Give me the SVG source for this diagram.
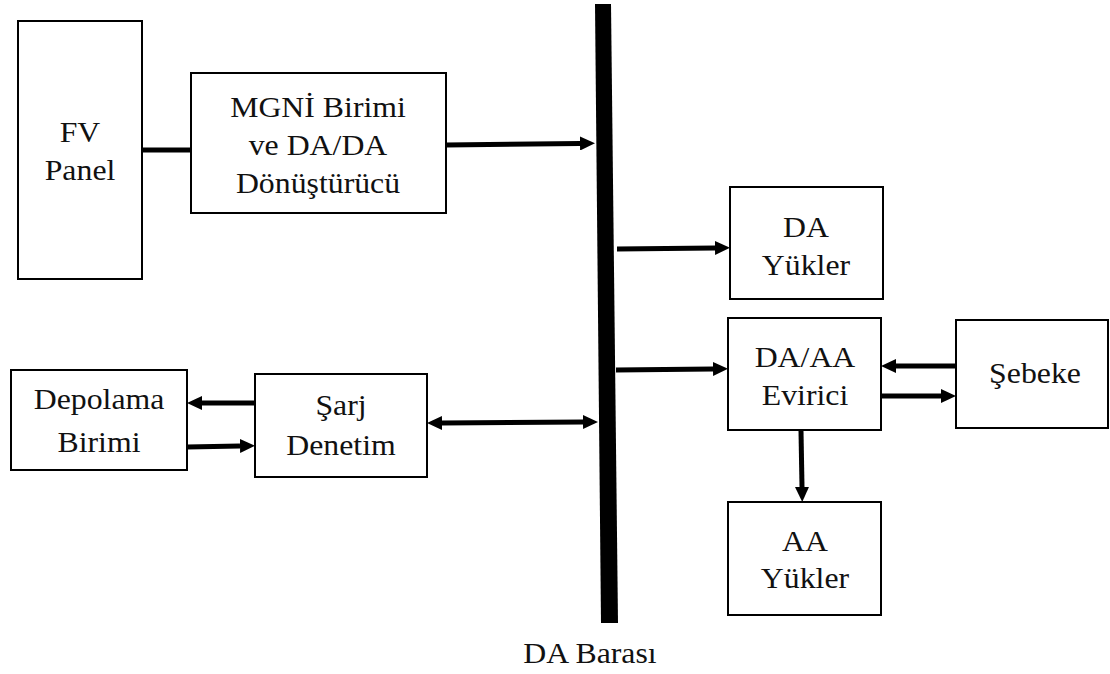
<svg xmlns="http://www.w3.org/2000/svg" width="1110" height="674" viewBox="0 0 1110 674">
<style>
.box{fill:#fff;stroke:#000;stroke-width:2}
.t{font-family:'Liberation Serif','Times New Roman',serif;font-size:30px;fill:#111;text-anchor:middle}
.c{stroke:#000;stroke-width:5;fill:none}
</style>
<defs>
<marker id="ah" markerUnits="userSpaceOnUse" markerWidth="15" markerHeight="14" refX="0" refY="7" orient="auto-start-reverse">
<path d="M0,0 L15,7 L0,14 z" fill="#000"/>
</marker>
</defs>
<rect width="1110" height="674" fill="#fff"/>
<g id="bus">
<polygon points="595,4 611,4 618,623 601,623" fill="#000"/>
<text class="t" transform="translate(590 663) scale(1.06 1)">DA Barası</text>
</g>
<g id="fv"><rect class="box" x="18" y="21" width="124" height="258"/>
<text class="t" transform="translate(80 142) scale(1.06 1)">FV</text><text class="t" transform="translate(80 180) scale(1.06 1)">Panel</text></g>
<g id="mgni"><rect class="box" x="191" y="73" width="255" height="140"/>
<text class="t" transform="translate(318 117) scale(1.06 1)">MGNİ Birimi</text><text class="t" transform="translate(318 155) scale(1.06 1)">ve DA/DA</text><text class="t" transform="translate(318 193) scale(1.06 1)">Dönüştürücü</text></g>
<g id="depolama"><rect class="box" x="11" y="370" width="176" height="100"/>
<text class="t" transform="translate(99 409) scale(1.06 1)">Depolama</text><text class="t" transform="translate(99 452) scale(1.06 1)">Birimi</text></g>
<g id="sarj"><rect class="box" x="255" y="374" width="172" height="103"/>
<text class="t" transform="translate(341 415) scale(1.06 1)">Şarj</text><text class="t" transform="translate(341 455) scale(1.06 1)">Denetim</text></g>
<g id="dayuk"><rect class="box" x="730" y="187" width="153" height="112"/>
<text class="t" transform="translate(806 237) scale(1.06 1)">DA</text><text class="t" transform="translate(806 275) scale(1.06 1)">Yükler</text></g>
<g id="evirici"><rect class="box" x="728" y="318" width="153" height="112"/>
<text class="t" transform="translate(805 367) scale(1.06 1)">DA/AA</text><text class="t" transform="translate(805 405) scale(1.06 1)">Evirici</text></g>
<g id="sebeke"><rect class="box" x="956" y="320" width="152" height="108"/>
<text class="t" transform="translate(1035 383) scale(1.06 1)">Şebeke</text></g>
<g id="aayuk"><rect class="box" x="728" y="502" width="153" height="113"/>
<text class="t" transform="translate(805 551) scale(1.06 1)">AA</text><text class="t" transform="translate(805 588) scale(1.06 1)">Yükler</text></g>
<g id="connectors">
<line class="c" x1="142" y1="150" x2="191" y2="150"/>
<line class="c" x1="446" y1="145" x2="580" y2="143.5" marker-end="url(#ah)"/>
<line class="c" x1="617" y1="249" x2="715" y2="248" marker-end="url(#ah)"/>
<line class="c" x1="616" y1="370" x2="713" y2="369" marker-end="url(#ah)"/>
<line class="c" x1="956" y1="366" x2="896" y2="366" marker-end="url(#ah)"/>
<line class="c" x1="881" y1="396" x2="941" y2="396" marker-end="url(#ah)"/>
<line class="c" x1="801" y1="431" x2="802" y2="487" marker-end="url(#ah)"/>
<line class="c" x1="255" y1="403" x2="202" y2="403" marker-end="url(#ah)"/>
<line class="c" x1="187" y1="447" x2="240" y2="446" marker-end="url(#ah)"/>
<line class="c" x1="442" y1="423" x2="583" y2="422" marker-start="url(#ah)" marker-end="url(#ah)"/>
</g>
</svg>
